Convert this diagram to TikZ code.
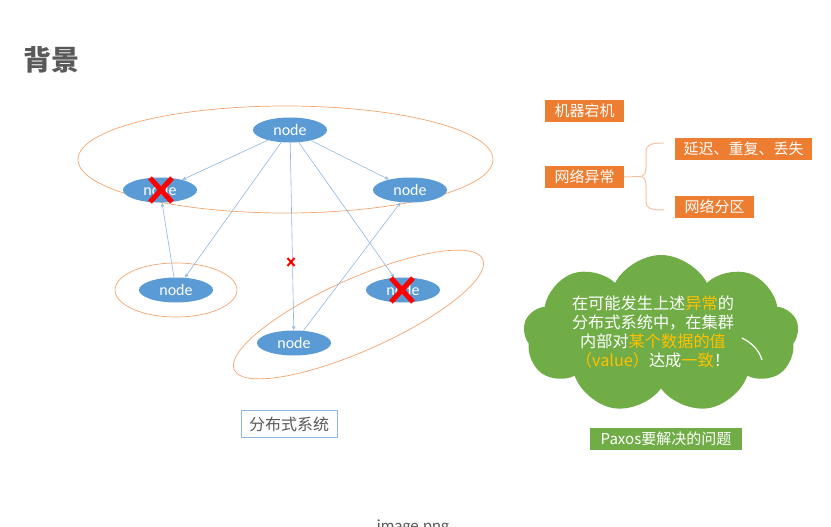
\documentclass[tikz,border=0pt]{standalone}
\usepackage{fontspec}
\setmainfont{Carlito}
\newfontfamily\cjk{Noto Sans CJK SC}
\usetikzlibrary{shapes.geometric,shapes.symbols,arrows.meta}
\definecolor{nodeblue}{HTML}{5B9BD5}
\definecolor{lineblue}{HTML}{8FB6DE}
\definecolor{ringorange}{HTML}{F2A46E}
\definecolor{boxorange}{HTML}{ED7D31}
\definecolor{bracepeach}{HTML}{F6C3A0}
\definecolor{pgreen}{HTML}{70AD47}
\definecolor{pyellow}{HTML}{FFC000}
\definecolor{titlegray}{HTML}{595959}
\begin{document}
\begin{tikzpicture}[x=1pt,y=-1pt,
  pc/.style={ellipse,fill=nodeblue,text=white,minimum width=74pt,minimum height=25pt,inner sep=0pt,font=\fontsize{16}{16}\selectfont},
  link/.style={-{Stealth[length=4.5pt,width=3.5pt]},draw=lineblue,line width=0.6pt},
  group/.style={draw=ringorange,line width=0.7pt},
  failx/.style={draw=red,line width=5pt},
  tag/.style={fill=boxorange,text=white,minimum height=22pt,inner sep=2pt,font=\cjk\fontsize{15}{15}\selectfont}]
\useasboundingbox (0,0) rectangle (831,527);
\clip (0,0) rectangle (831,527);
\node[anchor=west,text=titlegray,font=\cjk\bfseries\fontsize{28}{28}\selectfont] (title) at (20,60) {背景};

\draw[group] (285.5,159.5) ellipse [x radius=207.5,y radius=53.5];
\draw[group] (176,290) ellipse [x radius=61,y radius=27];
\draw[group,rotate around={24:(358.5,314.5)}] (358.5,314.5) ellipse [x radius=136,y radius=36];

\node[pc] (n0) at (290,130) {node};
\node[pc] (nf1) at (160,190) {node};
\node[pc] (n2) at (410,190) {node};
\node[pc] (n3) at (176,290) {node};
\node[pc] (n4) at (294,343) {node};
\node[pc] (nf2) at (403,290) {node};

\draw[link] (n0) -- (nf1);
\draw[link] (n0) -- (n2);
\draw[link] (n0) -- (n3);
\draw[link] (n3) -- (nf1);
\draw[link] (n0) -- (n4);
\draw[link] (n0) -- (nf2);
\draw[link] (n4) -- (n2);

\draw[failx] (150,178) -- (172,202) (172,178) -- (150,202);
\draw[failx] (391,278) -- (413,302) (413,278) -- (391,302);
\draw[draw=red,line width=2pt] (287.5,258) -- (294.5,266) (294.5,258) -- (287.5,266);

\node[draw=lineblue,fill=white,text=titlegray,minimum width=96pt,minimum height=27pt,inner sep=1pt,font=\cjk\fontsize{16}{16}\selectfont] (sys) at (289,424) {分布式系统};

\node[tag,minimum width=79pt] (crash) at (584.5,111) {机器宕机};
\node[tag,minimum width=79pt] (net) at (584.5,177) {网络异常};
\node[tag,minimum width=137pt] (delay) at (743.5,149) {延迟、重复、丢失};
\node[tag,minimum width=79pt] (part) at (714.5,207) {网络分区};
\draw[bracepeach,line width=1pt] (net.east) -- (639,176.5)
  .. controls (644,176.5) and (646,174) .. (646,168) -- (646,152)
  .. controls (646,145) and (650,143) .. (664,143);
\draw[bracepeach,line width=1pt] (639,176.5)
  .. controls (644,176.5) and (646,179) .. (646,186) -- (646,202)
  .. controls (646,208) and (650,210) .. (664,210);

\node[cloud,cloud puffs=9,cloud puff arc=125,aspect=1.75,fill=pgreen,minimum width=275pt,minimum height=158pt,inner sep=0pt] (issue) at (661,334) {};
\draw[white,line width=1.2pt] (742,338) .. controls (752,343) and (759,350) .. (762,360);
\node[text=white,align=center,font=\cjk\fontsize{16.2}{19}\selectfont] (issuetext) at (653,332)
  {在可能发生上述\textcolor{pyellow}{异常}的\\分布式系统中，在集群\\内部对\textcolor{pyellow}{某个数据的值}\\\textcolor{pyellow}{（value）}达成\textcolor{pyellow}{一致}！};
\node[tag,fill=pgreen,minimum width=152pt] (goal) at (666,439) {Paxos要解决的问题};

\node[anchor=base,text=titlegray,font=\fontsize{17}{17}\selectfont\rmfamily] (cap) at (413,531) {image.png};
\end{tikzpicture}
\end{document}
